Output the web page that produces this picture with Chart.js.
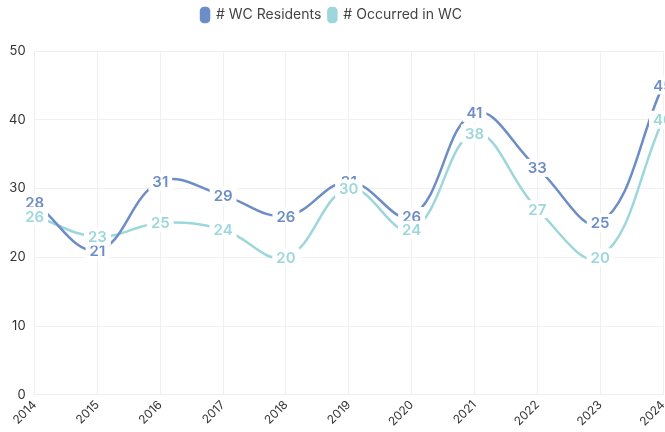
<!DOCTYPE html>
<html>
<head>
<meta charset="utf-8">
<script src="https://cdn.jsdelivr.net/npm/chart.js@4"></script>
<style>
  html, body { margin: 0; padding: 0; background: #fff; }
  #wrap { width: 665px; height: 432px; }
</style>
</head>
<body>
<div id="wrap"><canvas id="chart"></canvas></div>
<script>
// data
const years = ["2014", "2015", "2016", "2017", "2018", "2019", "2020", "2021", "2022", "2023", "2024"];
const wcResidents = [28, 21, 31, 29, 26, 31, 26, 41, 33, 25, 45];
const occurredInWc = [26, 23, 25, 24, 20, 30, 24, 38, 27, 20, 40];

const darkBlue = "#6d8dc7";
const lightBlue = "#9dd7dc";
const font = "Inter, 'Open Sans', sans-serif";

// simple value labels with a white box behind them (no datalabels plugin available)
const valueLabels = {
    id: "valueLabels",
    afterDatasetsDraw(chart) {
        const ctx = chart.ctx;
        ctx.save();
        ctx.font = "600 15px " + font;
        ctx.textAlign = "center";
        ctx.textBaseline = "middle";
        chart.data.datasets.forEach((ds, i) => {
            const meta = chart.getDatasetMeta(i);
            meta.data.forEach((pt, j) => {
                const txt = String(ds.data[j]);
                const w = ctx.measureText(txt).width;
                ctx.fillStyle = "#fff";
                ctx.fillRect(pt.x - w / 2 - 4, pt.y - 9, w + 8, 18);
                ctx.fillStyle = ds.borderColor;
                ctx.fillText(txt, pt.x, pt.y + 1);
            });
        });
        ctx.restore();
    }
};

// a bit of extra room under the legend
const legendMargin = {
    id: "legendMargin",
    beforeInit(chart) {
        const fit = chart.legend.fit;
        chart.legend.fit = function () {
            fit.bind(chart.legend)();
            this.height += 19;
        };
    }
};

new Chart(document.getElementById("chart"), {
    type: "line",
    data: {
        labels: years,
        datasets: [
            { label: "# WC Residents", data: wcResidents, borderColor: darkBlue, backgroundColor: darkBlue, borderWidth: 2.5, tension: 0.4, pointRadius: 0, fill: false },
            { label: "# Occurred in WC", data: occurredInWc, borderColor: lightBlue, backgroundColor: lightBlue, borderWidth: 2.5, tension: 0.4, pointRadius: 0, fill: false }
        ]
    },
    options: {
        responsive: true,
        maintainAspectRatio: false,
        animation: false,
        layout: { padding: { left: 0, right: 2, top: 1, bottom: 0 } },
        plugins: {
            legend: {
                labels: {
                    boxWidth: 8, boxHeight: 14, useBorderRadius: true, borderRadius: 3,
                    color: "#444", font: { family: font, size: 14 }, padding: 7
                }
            },
            tooltip: { enabled: false }
        },
        scales: {
            x: {
                grid: { color: "#f0f0f0", drawTicks: false },
                border: { color: "#eeeeee" },
                ticks: { maxRotation: 45, minRotation: 45, color: "#333", padding: 3, font: { family: font, size: 12 } },
                afterFit(scale) { scale.paddingRight = 0; }
            },
            y: {
                min: 0, max: 50,
                grid: { color: "#f0f0f0", drawTicks: false },
                border: { color: "#eeeeee" },
                ticks: { stepSize: 10, color: "#333", padding: 9, font: { family: font, size: 13 } }
            }
        }
    },
    plugins: [valueLabels, legendMargin]
});
</script>
</body>
</html>
